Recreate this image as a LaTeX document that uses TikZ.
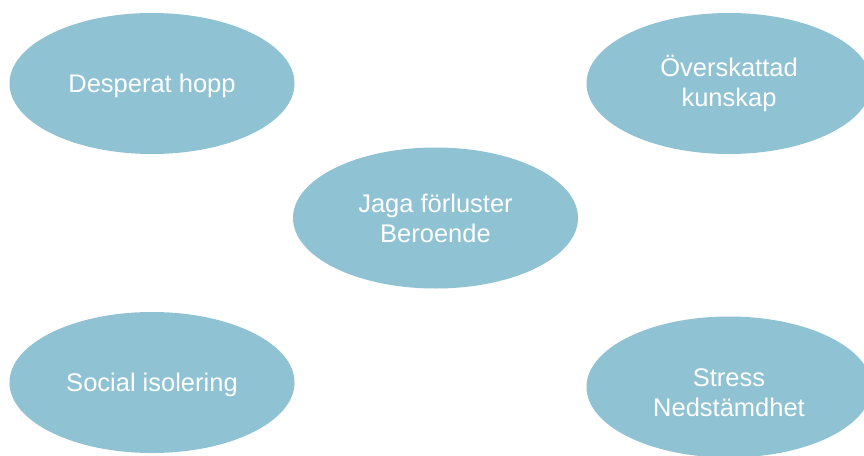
\documentclass[tikz,border=0pt]{standalone}
\usepackage{fontspec}
\setmainfont{Liberation Sans}
\usetikzlibrary{shapes.geometric}
\definecolor{bulle}{RGB}{143,194,211}
\tikzset{
	bulle/.style={ellipse,fill=bulle,draw=none,inner sep=0pt,
		minimum width=285pt,minimum height=141pt,
		text=white,align=center,
		font=\fontsize{25.5}{30}\selectfont},
	bulleligne/.style={bulle,text depth=0pt}
}
\begin{document}
\begin{tikzpicture}[x=1pt,y=-1pt]
%					Cadre de l'image :
					\clip (0,0) rectangle (864,455);
					\fill[white] (0,0) rectangle (864,455);
%					Tracé des ellipses :
					\node[bulleligne] (hopp) at (152,83.5) {Desperat hopp};
					\node[bulle] (kunskap) at (729,83.5) {Överskattad\\kunskap};
					\node[bulle] (jaga) at (435.5,218) {Jaga förluster\\Beroende};
					\node[bulleligne] (isolering) at (152,382.5) {Social isolering};
					\node[bulle,text height=60pt] (stress) at (729,387) {Stress\\Nedstämdhet};
				\end{tikzpicture}
\end{document}
